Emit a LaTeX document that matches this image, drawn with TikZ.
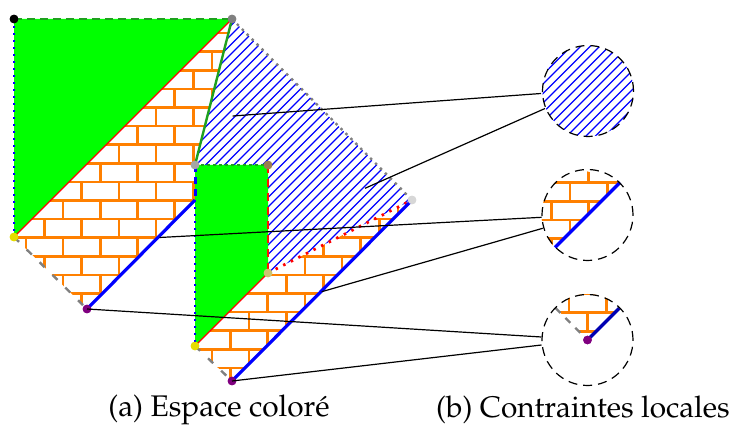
\documentclass[tikz,border=0pt]{standalone}
\usepackage[T1]{fontenc}
\usepackage{mathpazo}
\definecolor{edgegreen}{RGB}{30,160,30}
\definecolor{brickorange}{RGB}{255,128,0}
\definecolor{dotgray}{RGB}{128,128,128}
\definecolor{dotgrayb}{RGB}{165,165,165}
\definecolor{dotgrayc}{RGB}{215,215,215}
\definecolor{dotbrown}{RGB}{155,125,80}
\definecolor{dottan}{RGB}{205,195,110}
\definecolor{dotyellow}{RGB}{230,220,0}
\definecolor{dotpurple}{RGB}{128,0,128}
\newcommand\mybricks{%
  \foreach \k in {0,...,20} \draw[brickline] (0,14.5+18.6*\k) -- (700,14.5+18.6*\k);
  \foreach \k in {0,2,...,20} \foreach \m in {0,...,18} \draw[brickline] (25.9+37.2*\m,14.5+18.6*\k) -- ++(0,18.6);
  \foreach \k in {1,3,...,19} \foreach \m in {0,...,18} \draw[brickline] (7.3+37.2*\m,14.5+18.6*\k) -- ++(0,18.6);
}
\newcommand\myhatch[2]{%
  \foreach \i in {#1,...,#2} \draw[hatchline] (9.5*\i,0) -- (9.5*\i-500,500);
}
\begin{document}
\begin{tikzpicture}[x=1pt,y=-1pt,
  brickline/.style={brickorange,line width=2.6pt},
  hatchline/.style={blue,line width=1.1pt},
  dot/.style={circle,inner sep=0pt,minimum size=8.6pt},
  conn/.style={black,line width=1.2pt},
  bluesolid/.style={blue,line width=3.2pt},
  zoomcircle/.style={circle,draw=black,dash pattern=on 9pt off 6pt,line width=1.2pt,minimum size=91pt,inner sep=0pt},
  caption/.style={font=\fontsize{29.8}{34}\selectfont}]
\useasboundingbox (0,0) rectangle (731,430);

% ---------- (a) regions ----------
\begin{scope}
  \clip (14,237) -- (232,19) -- (195,165) -- (195,200) -- (87,309) -- cycle;
  \mybricks
\end{scope}
\begin{scope}
  \clip (232,19) -- (412,200) -- (268,273) -- (268,165) -- (195,165) -- cycle;
  \myhatch{25}{66}
\end{scope}
\fill[green] (14,19) -- (232,19) -- (14,237) -- cycle;
\fill[green] (195,165) -- (268,165) -- (268,273) -- (195,346) -- cycle;
\begin{scope}
  \clip (195,346) -- (268,273) -- (412,200) -- (232,381) -- cycle;
  \mybricks
\end{scope}

% dots (named)
\node[dot,fill=black] (A) at (14,19) {};
\node[dot,fill=dotgray] (B) at (232,19) {};
\node[dot,fill=dotyellow] (Y1) at (14,237) {};
\node[dot,fill=dotpurple] (P1) at (87,309) {};
\node[dot,fill=dotgrayb] (G2) at (195,165) {};
\node[dot,fill=dotbrown] (Br) at (268,165) {};
\node[dot,fill=dottan] (T) at (268,273) {};
\node[dot,fill=dotyellow] (Y2) at (195,346) {};
\node[dot,fill=dotpurple] (P2) at (232,381) {};
\node[dot,fill=dotgrayc] (L) at (412,200) {};
\coordinate (K) at (195,200);

% edges
\draw[edgegreen,line width=2.4pt,dash pattern=on 8pt off 5pt] (A.center) -- (B.center);
\draw[blue,line width=2.6pt,dash pattern=on 2.5pt off 4.5pt] (A.center) -- (Y1.center);
\draw[red,line width=1.4pt] (Y1.center) -- (B.center);
\draw[edgegreen,line width=2.4pt] (B.center) -- (G2.center);
\draw[dotgray,line width=2.4pt,dash pattern=on 2.5pt off 4.5pt] (B.center) -- (L.center);
\draw[blue,line width=3pt,dash pattern=on 7pt off 5pt] (G2.center) -- (K);
\draw[bluesolid] (K) -- (P1.center);
\draw[dotgray,line width=2.4pt,dash pattern=on 7pt off 11pt] (Y1.center) -- (P1.center);
\draw[edgegreen,line width=2.4pt,dash pattern=on 2.5pt off 3.5pt] (G2.center) -- (Br.center);
\draw[blue,line width=2.6pt,dash pattern=on 2.5pt off 4.5pt] (K) -- (Y2.center);
\draw[red!85!orange,line width=2pt,dash pattern=on 8pt off 6pt] (Br.center) -- (T.center);
\draw[red,line width=1.4pt] (Y2.center) -- (T.center);
\draw[red,line width=2.8pt,dash pattern=on 2.5pt off 6pt] (T.center) -- (L.center);
\draw[bluesolid] (L.center) -- (P2.center);
\draw[dotgray,line width=2.4pt,dash pattern=on 7pt off 11pt] (Y2.center) -- (P2.center);

% redraw dots on top
\foreach \n/\c in {A/black,B/dotgray,Y1/dotyellow,P1/dotpurple,G2/dotgrayb,Br/dotbrown,T/dottan,Y2/dotyellow,P2/dotpurple,L/dotgrayc}
  \fill[\c] (\n) circle[radius=4.3];

% ---------- (b) zoom circles ----------
\begin{scope}
  \clip (588,91) circle[radius=45.5];
  \myhatch{63}{82}
\end{scope}
\begin{scope}
  \clip (587.5,215) circle[radius=46];
  \clip (554.5,248) -- (620.5,182) -- (520,150) -- (520,260) -- cycle;
  \foreach \k in {0,...,5} \draw[brickline] (530,164.1+18.6*\k) -- (650,164.1+18.6*\k);
  \foreach \k in {0,2,4} \foreach \m in {0,...,3} \draw[brickline] (514.2+37.2*\m,164.1+18.6*\k) -- ++(0,18.6);
  \foreach \k in {1,3,5} \foreach \m in {0,...,3} \draw[brickline] (532.8+37.2*\m,164.1+18.6*\k) -- ++(0,18.6);
\end{scope}
\coordinate (D2a) at (555,247.5);
\coordinate (D2b) at (620,182.5);
\draw[bluesolid] (D2a) -- (D2b);
\begin{scope}
  \clip (587.5,340) circle[radius=46];
  \clip (587.5,340) -- (527.5,280) -- (647.5,280) -- cycle;
  \foreach \k in {0,...,3} \draw[brickline] (530,294.1+18.6*\k) -- (650,294.1+18.6*\k);
  \foreach \k in {0,2} \foreach \m in {0,...,3} \draw[brickline] (531.8+37.2*\m,294.1+18.6*\k) -- ++(0,18.6);
  \foreach \k in {1,3} \foreach \m in {0,...,3} \draw[brickline] (550.4+37.2*\m,294.1+18.6*\k) -- ++(0,18.6);
\end{scope}
\node[dot,fill=dotpurple] (P3) at (587.5,340) {};
\coordinate (E3a) at (619.3,308.2);
\coordinate (E3b) at (555.5,308);
\draw[blue!70!black,line width=3.2pt] (P3.center) -- (E3a);
\draw[dotgray,line width=2.4pt,dash pattern=on 7pt off 7pt] (E3b) -- (P3.center);
\fill[dotpurple] (P3) circle[radius=4.3];

\node[zoomcircle] (C1) at (588,91) {};
\node[zoomcircle] (C2) at (587.5,215) {};
\node[zoomcircle] (C3) at (587.5,340) {};

% ---------- connectors ----------
\coordinate (hA) at (232.7,116);
\coordinate (hB) at (365,188.3);
\coordinate (bA) at (159.5,237.5);
\coordinate (bB) at (321.7,291.7);
\coordinate (c1a) at (541,93.5);
\coordinate (c1b) at (545,108.5);
\coordinate (c2a) at (541.7,217.3);
\coordinate (c2b) at (542.7,228.3);
\coordinate (c3a) at (541.5,337);
\coordinate (c3b) at (541.5,345);
\draw[conn] (hA) -- (c1a);
\draw[conn] (hB) -- (c1b);
\draw[conn] (bA) -- (c2a);
\draw[conn] (bB) -- (c2b);
\draw[conn] (P1.center) -- (c3a);
\draw[conn] (P2.center) -- (c3b);

% ---------- captions ----------
\node[caption] (capA) at (219,410) {(a) Espace coloré};
\node[caption] (capB) at (583,410) {(b) Contraintes locales};
\end{tikzpicture}
\end{document}
